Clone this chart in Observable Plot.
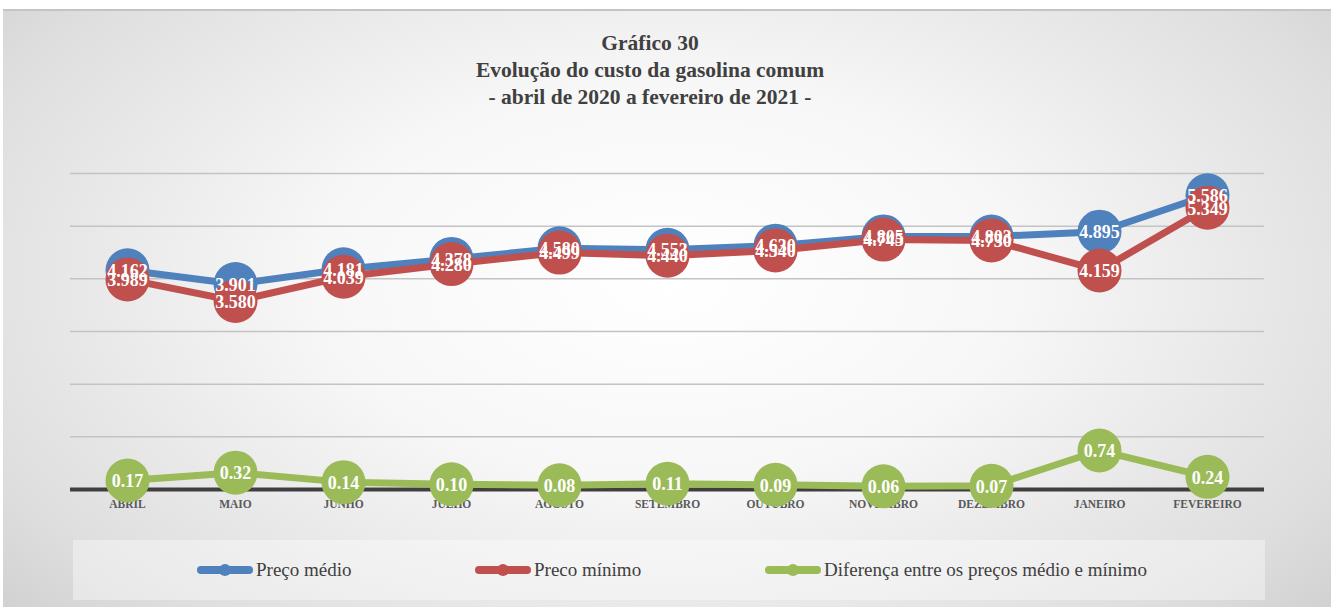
<!DOCTYPE html>
<html>
<head>
<meta charset="utf-8">
<script src="https://cdn.jsdelivr.net/npm/d3@7"></script>
<script src="https://cdn.jsdelivr.net/npm/@observablehq/plot@0.6"></script>
<style>
  html, body { margin: 0; padding: 0; background: #fff; width: 1334px; height: 607px; overflow: hidden; }
  #frame { position: absolute; left: 3px; top: 9px; width: 1328px; height: 598px;
    background: radial-gradient(ellipse 75% 95% at 50% 45%, #ffffff 0%, #f7f7f7 35%, #dedede 75%, #c6c6c6 100%);
    border-top: 2px solid #c4c4c4; }
  #wrap { position: relative; width: 1334px; }
  #title { width: 1300px; height: 120px; box-sizing: border-box; padding-top: 30px; text-align: center;
    font-family: "Liberation Serif", "DejaVu Serif", serif; font-weight: bold; font-size: 21.5px; line-height: 27px; color: #404040; }
  #legend { position: relative; margin-left: 73px; margin-top: 10px; width: 1192px; height: 60px;
    background: rgba(255,255,255,0.38); font-family: "Liberation Serif", serif; font-size: 19px; color: #404040; }
  .item { position: absolute; top: 0; height: 60px; display: flex; align-items: center; }
  .item svg { margin-right: 2px; }
</style>
</head>
<body>
<div id="frame"></div>
<div id="wrap">
  <div id="title">Gráfico 30<br>Evolução do custo da gasolina comum<br>- abril de 2020 a fevereiro de 2021 -</div>
  <div id="chart"></div>
  <div id="legend"></div>
</div>
<script>
const months = ["ABRIL","MAIO","JUNHO","JULHO","AGOSTO","SETEMBRO","OUTUBRO","NOVEMBRO","DEZEMBRO","JANEIRO","FEVEREIRO"];
const precoMedio = [4.162, 3.901, 4.181, 4.378, 4.580, 4.553, 4.630, 4.805, 4.803, 4.895, 5.586];
const precoMinimo = [3.989, 3.580, 4.039, 4.280, 4.499, 4.440, 4.540, 4.745, 4.730, 4.159, 5.349];
const diferenca = [0.17, 0.32, 0.14, 0.10, 0.08, 0.11, 0.09, 0.06, 0.07, 0.74, 0.24];
const seriesNames = ["Preço médio", "Preco mínimo", "Diferença entre os preços médio e mínimo"];
const colors = ["#4f81bd", "#c0504d", "#9bbb59"];
const gridTicks = [1, 2, 3, 4, 5, 6];

const data = months.map((m, i) => ({m, med: precoMedio[i], min: precoMinimo[i], dif: diferenca[i]}));
const ff = "Liberation Serif, DejaVu Serif, serif";
const lbl = (key, fmt) => Plot.text(data, {x: "m", y: key, text: d => fmt(d[key]), fill: "white",
  fontSize: 18, fontWeight: "bold", fontFamily: ff, dy: 1});

const chart = Plot.plot({
  width: 1334, height: 410,
  marginTop: 53, marginBottom: 41, marginLeft: 70, marginRight: 70,
  style: {background: "transparent", overflow: "visible"},
  x: {type: "point", domain: months, padding: 0.5},
  y: {domain: [0, 6], axis: null},
  marks: [
    Plot.ruleY(gridTicks, {stroke: "#c3c3c3", strokeWidth: 1.5}),
    Plot.ruleY([0], {stroke: "#3f3f3f", strokeWidth: 4}),
    Plot.axisX({tickSize: 0, tickPadding: 10, fontSize: 11.5, fontWeight: "bold", fontFamily: ff, fill: "#595959", label: null}),
    Plot.line(data, {x: "m", y: "med", stroke: colors[0], strokeWidth: 7}),
    Plot.dot(data, {x: "m", y: "med", r: 22, fill: colors[0]}),
    Plot.line(data, {x: "m", y: "min", stroke: colors[1], strokeWidth: 7}),
    Plot.dot(data, {x: "m", y: "min", r: 22, fill: colors[1]}),
    Plot.line(data, {x: "m", y: "dif", stroke: colors[2], strokeWidth: 7}),
    Plot.dot(data, {x: "m", y: "dif", r: 22, fill: colors[2]}),
    lbl("med", v => v.toFixed(3)),
    lbl("min", v => v.toFixed(3)),
    lbl("dif", v => v.toFixed(2))
  ]
});
document.getElementById("chart").appendChild(chart);

const legendLefts = [123, 401, 691];
const legend = document.getElementById("legend");
seriesNames.forEach((name, i) => {
  const it = document.createElement("div");
  it.className = "item";
  it.style.left = legendLefts[i] + "px";
  it.innerHTML = `<svg width="58" height="16"><line x1="5" y1="8" x2="53" y2="8" stroke="${colors[i]}" stroke-width="8" stroke-linecap="round"/><circle cx="29" cy="8" r="6" fill="${colors[i]}"/></svg><span>${name}</span>`;
  legend.appendChild(it);
});
</script>
</body>
</html>
